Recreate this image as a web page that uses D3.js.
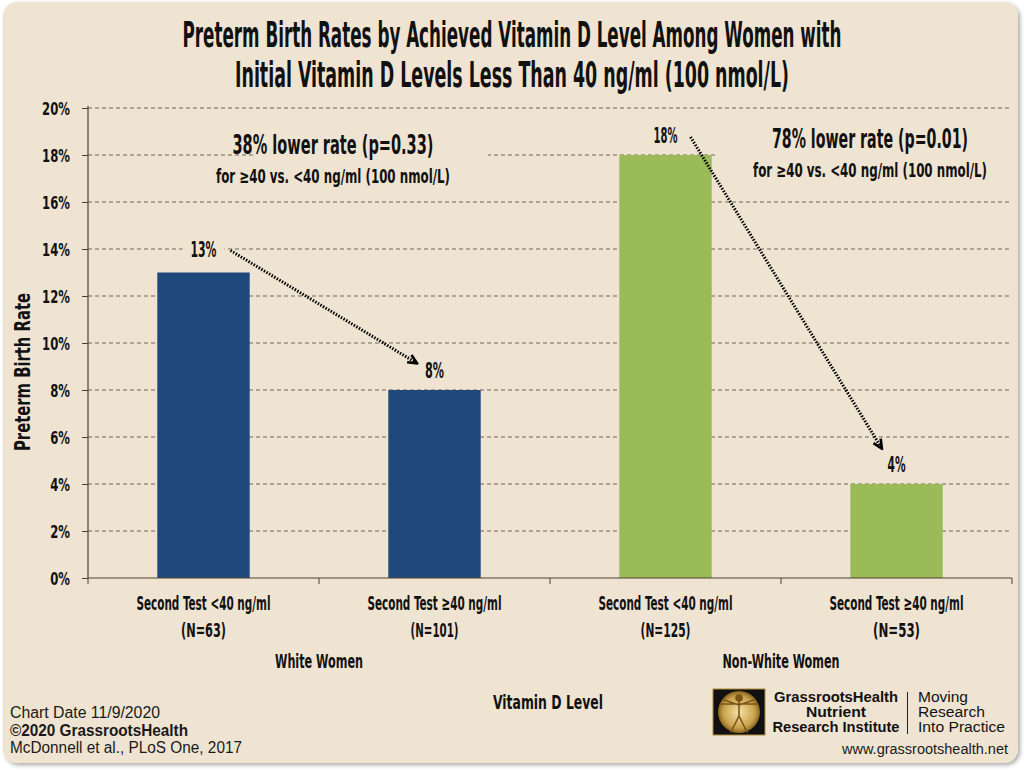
<!DOCTYPE html>
<html>
<head>
<meta charset="utf-8">
<script src="https://cdn.jsdelivr.net/npm/d3@7"></script>
<style>
  html, body { margin: 0; padding: 0; background: #ffffff; }
  svg { display: block; }
  .cond { font-family: "Liberation Sans Narrow", "DejaVu Sans Condensed", "Arial Narrow", sans-serif; font-weight: bold; fill: #111; }
  .foot { font-family: "Liberation Sans", Arial, sans-serif; fill: #1a1a1a; }
</style>
</head>
<body>
<svg id="chart" width="1024" height="771"></svg>
<script>
// ---------------- data ----------------
const categories = ["Second Test <40 ng/ml", "Second Test \u226540 ng/ml", "Second Test <40 ng/ml", "Second Test \u226540 ng/ml"];
const sampleSizes = ["(N=63)", "(N=101)", "(N=125)", "(N=53)"];
const groupOf = [0, 0, 1, 1];
const groups = ["White Women", "Non-White Women"];
const rates = [13, 8, 18, 4];
const valueLabels = ["13%", "8%", "18%", "4%"];
const yTicks = [0, 2, 4, 6, 8, 10, 12, 14, 16, 18, 20];
const groupColors = ["#1F497D", "#9BBB59"];
const annotationMain = ["38% lower rate (p=0.33)", "78% lower rate (p=0.01)"];
const annotationSub = ["for \u226540 vs. <40 ng/ml (100 nmol/L)", "for \u226540 vs. <40 ng/ml (100 nmol/L)"];
const titleLines = ["Preterm Birth Rates by Achieved Vitamin D Level Among Women with", "Initial Vitamin D Levels Less Than 40 ng/ml (100 nmol/L)"];
const yTitle = "Preterm Birth Rate";
const xTitle = "Vitamin D Level";
const footerLines = ["Chart Date 11/9/2020", "\u00a92020 GrassrootsHealth", "McDonnell et al., PLoS One, 2017"];
const logoLines = ["GrassrootsHealth", "Nutrient", "Research Institute"];
const taglineLines = ["Moving", "Research", "Into Practice"];
const website = "www.grassrootshealth.net";

// ---------------- layout ----------------
const plot = { left: 88, right: 1012, top: 108, bottom: 578 };
const cardFill = "#EFE4D1";
const svg = d3.select("#chart");

const defs = svg.append("defs");
const f = defs.append("filter").attr("id", "shadow").attr("x", "-5%").attr("y", "-5%").attr("width", "110%").attr("height", "110%");
f.append("feDropShadow").attr("dx", 2).attr("dy", 2).attr("stdDeviation", 2).attr("flood-color", "#000").attr("flood-opacity", 0.35);
svg.append("rect").attr("x", 3).attr("y", 2).attr("width", 1015).attr("height", 761).attr("rx", 14)
  .attr("fill", cardFill).attr("filter", "url(#shadow)");

defs.append("marker").attr("id", "arrow").attr("viewBox", "0 0 10 10").attr("refX", 8).attr("refY", 5)
  .attr("markerWidth", 12).attr("markerHeight", 12).attr("orient", "auto").attr("markerUnits", "userSpaceOnUse")
  .append("path").attr("d", "M1,1.5 L8.5,5 L1,8.5").attr("fill", "none").attr("stroke", "#000").attr("stroke-width", 2.2);

const x = d3.scaleBand().domain(d3.range(categories.length)).range([plot.left, plot.right])
  .paddingInner(0.6).paddingOuter(0.3);
const y = d3.scaleLinear().domain([0, 20]).range([plot.bottom, plot.top]);

function fit(sel, w) { sel.attr("textLength", w).attr("lengthAdjust", "spacingAndGlyphs"); return sel; }
function squeeze(sel, k) {
  sel.each(function () { const n = this.getComputedTextLength(); d3.select(this).attr("textLength", n * k).attr("lengthAdjust", "spacingAndGlyphs"); });
  return sel;
}

// title
titleLines.forEach((t, i) => {
  fit(svg.append("text").attr("class", "cond").attr("x", 512).attr("y", 47 + i * 40)
    .attr("text-anchor", "middle").attr("font-size", 35).text(t), i === 0 ? 659 : 554);
});

// gridlines
svg.append("g").selectAll("line").data(yTicks.filter(d => d > 0)).join("line")
  .attr("x1", plot.left).attr("x2", plot.right).attr("y1", d => y(d)).attr("y2", d => y(d))
  .attr("stroke", "#6e6656").attr("stroke-width", 1).attr("stroke-dasharray", "4,3");

// annotations (with boxes hiding gridlines)
const annCenters = [333, 870];
const annG = svg.append("g");
annotationMain.forEach((t, i) => {
  const cx = annCenters[i];
  const box = annG.append("rect").attr("fill", cardFill);
  const t1 = fit(annG.append("text").attr("class", "cond").attr("x", cx).attr("y", i === 0 ? 154 : 148)
    .attr("text-anchor", "middle").attr("font-size", 27).text(t), i === 0 ? 201 : 196);
  const t2 = fit(annG.append("text").attr("class", "cond").attr("x", cx).attr("y", i === 0 ? 183 : 177)
    .attr("text-anchor", "middle").attr("font-size", 19).text(annotationSub[i]), 234);
  const b1 = t1.node().getBBox(), b2 = t2.node().getBBox();
  const lo = Math.max(Math.min(b1.x, b2.x) - 38, x(i * 2) + x.bandwidth() + 4);
  const hi = Math.min(plot.right, Math.max(b1.x + b1.width, b2.x + b2.width) + 38);
  box.attr("x", lo).attr("y", b1.y - 2).attr("width", hi - lo).attr("height", (b2.y + b2.height) - b1.y + 4);
});

// bars
svg.append("g").selectAll("rect").data(rates).join("rect")
  .attr("x", (d, i) => x(i)).attr("width", x.bandwidth())
  .attr("y", d => y(d)).attr("height", d => y(0) - y(d))
  .attr("fill", (d, i) => groupColors[groupOf[i]]);

// axes
const axisColor = "#4d4330";
const yAxis = svg.append("g").attr("transform", `translate(${plot.left},0)`)
  .call(d3.axisLeft(y).tickValues(yTicks).tickSize(6).tickFormat(d => d + "%"));
yAxis.select(".domain").attr("stroke", axisColor).attr("stroke-width", 1.2).attr("d", `M0,${plot.top - 2}V${plot.bottom}`);
yAxis.selectAll(".tick line").attr("stroke", axisColor);
yAxis.selectAll(".tick text").attr("class", "cond").attr("font-size", 18).attr("x", -18).attr("dy", "0.36em")
  .style("font-family", "'Liberation Sans Narrow','DejaVu Sans Condensed',sans-serif").style("font-weight", "bold")
  .attr("fill", "#111").call(s => squeeze(s, 0.72));

const xAxisG = svg.append("g");
xAxisG.append("line").attr("x1", plot.left).attr("x2", plot.right).attr("y1", plot.bottom).attr("y2", plot.bottom)
  .attr("stroke", axisColor).attr("stroke-width", 1.2);
const dividers = d3.range(categories.length + 1).map(i => plot.left + i * x.step());
xAxisG.selectAll(".xt").data(dividers).join("line").attr("class", "xt")
  .attr("x1", d => d).attr("x2", d => d).attr("y1", plot.bottom).attr("y2", plot.bottom + 6)
  .attr("stroke", axisColor);

// x category labels
svg.append("g").selectAll("text").data(categories).join("text").attr("class", "cond")
  .attr("x", (d, i) => x(i) + x.bandwidth() / 2).attr("y", 610).attr("text-anchor", "middle")
  .attr("font-size", 20).text(d => d).call(s => fit(s, 134));
const nWidths = [45, 48, 50, 47];
svg.append("g").selectAll("text").data(sampleSizes).join("text").attr("class", "cond")
  .attr("x", (d, i) => x(i) + x.bandwidth() / 2).attr("y", 637).attr("text-anchor", "middle")
  .attr("font-size", 20).text(d => d).each(function (d, i) { fit(d3.select(this), nWidths[i]); });
svg.append("g").selectAll("text").data(groups).join("text").attr("class", "cond")
  .attr("x", (d, gi) => plot.left + (gi * 2 + 1) * x.step()).attr("y", 668).attr("text-anchor", "middle")
  .attr("font-size", 20).text(d => d).each(function (d, gi) { fit(d3.select(this), gi === 0 ? 88 : 117); });

// axis titles
fit(svg.append("text").attr("class", "cond").attr("x", 548).attr("y", 709).attr("text-anchor", "middle")
  .attr("font-size", 20).text(xTitle), 110);
fit(svg.append("text").attr("class", "cond").attr("transform", "translate(30,372) rotate(-90)")
  .attr("text-anchor", "middle").attr("font-size", 22).text(yTitle), 158);

// value labels with background
const vl = svg.append("g");
const labelOffsets = [16, 12, 12, 12];
const labelWidths = [26, 19, 24, 18];
rates.forEach((v, i) => {
  const cx = x(i) + x.bandwidth() / 2;
  const bg = vl.append("rect").attr("fill", cardFill);
  const t = fit(vl.append("text").attr("class", "cond").attr("x", cx).attr("y", y(v) - labelOffsets[i])
    .attr("text-anchor", "middle").attr("font-size", 21)
    .style("font-weight", "600").text(valueLabels[i]), labelWidths[i]);
  const b = t.node().getBBox();
  bg.attr("x", b.x - 8).attr("y", b.y + 2).attr("width", b.width + 16).attr("height", b.height - 4);
});

// arrows
const arrows = [
  { from: 0, to: 1, sdx: 27, sdy: -6, edx: -18, edy: -27 },
  { from: 2, to: 3, sdx: 25, sdy: -6, edx: -15, edy: -36 }
];
svg.append("g").selectAll("line").data(arrows).join("line")
  .attr("x1", d => x(d.from) + x.bandwidth() / 2 + d.sdx).attr("y1", d => y(rates[d.from]) - labelOffsets[d.from] + d.sdy)
  .attr("x2", d => x(d.to) + x.bandwidth() / 2 + d.edx).attr("y2", d => y(rates[d.to]) + d.edy)
  .attr("stroke", "#000").attr("stroke-width", 3).attr("stroke-dasharray", "1.5,1.5")
  .attr("marker-end", "url(#arrow)");

// footer left
const footW = [150, 178, 232];
footerLines.forEach((t, i) => {
  fit(svg.append("text").attr("class", "foot").attr("x", 10).attr("y", 718 + i * 17.5).attr("font-size", 16)
    .attr("font-weight", i === 1 ? "bold" : "normal").text(t), footW[i]);
});

// logo
const lg = svg.append("g");
const rg = defs.append("radialGradient").attr("id", "gold");
rg.append("stop").attr("offset", "0%").attr("stop-color", "#f6e2a8");
rg.append("stop").attr("offset", "75%").attr("stop-color", "#c9a24c");
rg.append("stop").attr("offset", "100%").attr("stop-color", "#8a6420");
lg.append("rect").attr("x", 713).attr("y", 689).attr("width", 52).attr("height", 46).attr("fill", "#111").attr("stroke", "#b08a3a").attr("stroke-width", 1);
lg.append("circle").attr("cx", 739).attr("cy", 712).attr("r", 21).attr("fill", "url(#gold)");
const man = lg.append("g").attr("stroke", "#7a5518").attr("stroke-width", 1.6).attr("fill", "none").attr("stroke-linecap", "round");
man.append("circle").attr("cx", 739).attr("cy", 698).attr("r", 3).attr("fill", "#7a5518");
man.append("path").attr("d", "M739,701 L739,716 M721,704 L757,704 M739,716 L731,732 M739,716 L747,732 M724,700 L739,705 L754,700");
const logoW = [124, 60, 127];
lg.selectAll(".lt").data(logoLines).join("text").attr("class", "lt")
  .attr("x", 836).attr("y", (d, i) => 702 + i * 15).attr("text-anchor", "middle")
  .attr("font-family", "'Liberation Sans',Arial,sans-serif").attr("font-weight", "bold")
  .attr("font-size", 15).attr("fill", "#111").text(d => d)
  .each(function (d, i) { fit(d3.select(this), logoW[i]); });
lg.append("line").attr("x1", 907.5).attr("x2", 907.5).attr("y1", 692).attr("y2", 734).attr("stroke", "#222").attr("stroke-width", 1);
const tagW = [50, 67, 87];
lg.selectAll(".tg").data(taglineLines).join("text").attr("class", "tg")
  .attr("x", 918).attr("y", (d, i) => 702 + i * 15)
  .attr("font-family", "'Liberation Sans',Arial,sans-serif")
  .attr("font-size", 15.5).attr("fill", "#111").text(d => d)
  .each(function (d, i) { fit(d3.select(this), tagW[i]); });
fit(svg.append("text").attr("class", "foot").attr("x", 1008).attr("y", 754).attr("text-anchor", "end")
  .attr("font-size", 14).text(website), 166);
</script>
</body>
</html>
